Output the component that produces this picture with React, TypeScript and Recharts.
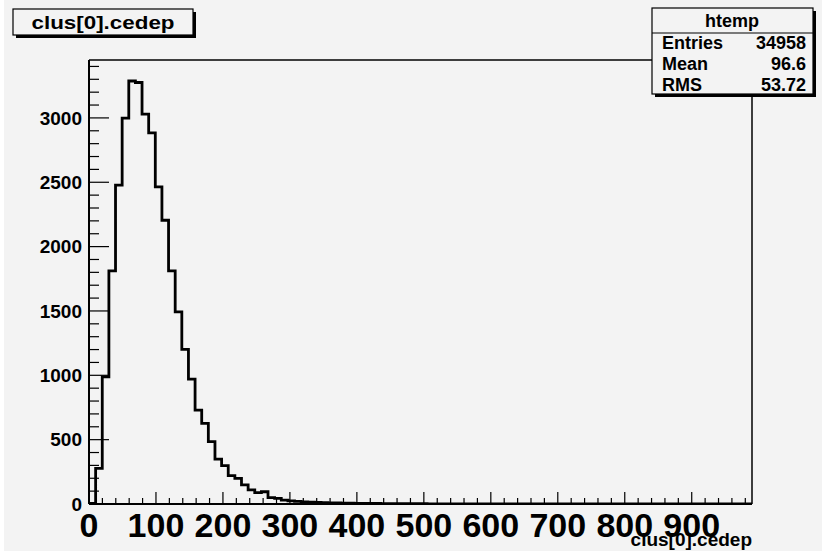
import React from "react";
import { ComposedChart, Line, XAxis, YAxis, ReferenceLine } from "recharts";

// histogram: 100 bins of width 9.9 from 0 to 990
const binWidth = 9.9;
const binCounts = [
  5, 277, 988, 1812, 2477, 2998, 3287, 3275, 3029, 2884,
  2464, 2205, 1812, 1493, 1201, 971, 730, 627, 484, 349,
  298, 220, 199, 148, 109, 88, 95, 49, 44, 30,
  24, 20, 17, 14, 12, 10, 9, 8, 7, 6,
  5, 5, 4, 4, 3, 3, 3, 2, 2, 2,
  2, 1, 1, 1, 1, 1, 1, 1, 0, 1,
  0, 0, 0, 0, 0, 0, 0, 0, 0, 0,
  0, 0, 0, 0, 0, 0, 0, 0, 0, 0,
  0, 0, 0, 0, 0, 0, 0, 0, 0, 0,
  0, 0, 0, 0, 0, 0, 0, 0, 0, 0,
];
const xMax = 990;
const yMax = 3450;
const xTicks = [0, 20, 40, 60, 80, 100, 120, 140, 160, 180, 200, 220, 240, 260, 280, 300, 320, 340, 360, 380, 400, 420, 440, 460, 480, 500, 520, 540, 560, 580, 600, 620, 640, 660, 680, 700, 720, 740, 760, 780, 800, 820, 840, 860, 880, 900, 920, 940, 960, 980];
const yTicks = [0, 100, 200, 300, 400, 500, 600, 700, 800, 900, 1000, 1100, 1200, 1300, 1400, 1500, 1600, 1700, 1800, 1900, 2000, 2100, 2200, 2300, 2400, 2500, 2600, 2700, 2800, 2900, 3000, 3100, 3200, 3300, 3400];
const statsRows = [
  { label: "Entries", value: "34958" },
  { label: "Mean", value: "96.6" },
  { label: "RMS", value: "53.72" },
];
const histName = "htemp";
const title = "clus[0].cedep";
const xTitle = "clus[0].cedep";

const data = binCounts.map((c, i) => ({ x: i * binWidth, y: c }));
data.push({ x: xMax, y: binCounts[binCounts.length - 1] });

const FONT = "'Liberation Sans', Arial, Helvetica, sans-serif";
const BG = "#f3f3f3";

const YTick = (props: any) => {
  const { x, y, payload } = props;
  const v = payload.value;
  const major = v % 500 === 0;
  return (
    <g>
      <line x1={x} x2={x + (major ? 20 : 10)} y1={y} y2={y} stroke="#000" strokeWidth={1.2} />
      {major && (
        <text x={x - 7} y={y} dy="0.36em" textAnchor="end" fontFamily={FONT} fontWeight="bold" fontSize={19} fill="#000">
          {v}
        </text>
      )}
    </g>
  );
};

const XTick = (props: any) => {
  const { x, y, payload } = props;
  const v = payload.value;
  const major = v % 100 === 0;
  return (
    <g>
      <line x1={x} x2={x} y1={y} y2={y - (major ? 12 : 6)} stroke="#000" strokeWidth={1.2} />
      {major && (
        <text x={x} y={y + 33} textAnchor="middle" fontFamily={FONT} fontWeight="bold" fontSize={34} fill="#000">
          {v}
        </text>
      )}
    </g>
  );
};

export default function App() {
  return (
    <div style={{ position: "absolute", left: 0, top: 0, width: 822, height: 555, background: "#fff" }}>
      <div style={{ position: "absolute", left: 4, top: 0, width: 818, height: 551, background: BG }} />
      <div style={{ position: "absolute", left: 0, top: 0 }}>
        <ComposedChart width={822} height={555} data={data} margin={{ top: 60, right: 70, bottom: 0, left: 0 }}>
          <XAxis
            dataKey="x"
            type="number"
            domain={[0, xMax]}
            ticks={xTicks}
            interval={0}
            height={51}
            tickSize={0}
            tickMargin={0}
            tick={<XTick />}
            axisLine={{ stroke: "#000", strokeWidth: 2 }}
            tickLine={false}
            allowDataOverflow
          />
          <YAxis
            type="number"
            domain={[0, yMax]}
            ticks={yTicks}
            interval={0}
            width={89}
            tickSize={0}
            tickMargin={0}
            tick={<YTick />}
            axisLine={{ stroke: "#000", strokeWidth: 2 }}
            tickLine={false}
            allowDataOverflow
          />
          <ReferenceLine y={yMax} stroke="#000" strokeWidth={1.5} ifOverflow="extendDomain" />
          <ReferenceLine x={xMax} stroke="#000" strokeWidth={1.5} ifOverflow="extendDomain" />
          <Line
            dataKey="y"
            type="stepAfter"
            stroke="#000"
            strokeWidth={2.8}
            dot={false}
            isAnimationActive={false}
          />
        </ComposedChart>
      </div>
      <svg width={822} height={555} style={{ position: "absolute", left: 0, top: 0, pointerEvents: "none" }}>
        {/* title box */}
        <rect x={16} y={12} width={180} height={26} fill="#000" />
        <rect x={13} y={9} width={180} height={26} fill={BG} stroke="#000" strokeWidth={1.2} />
        <text x={103} y={29} textAnchor="middle" fontFamily={FONT} fontWeight="bold" fontSize={19} textLength={143} lengthAdjust="spacingAndGlyphs" fill="#000">
          {title}
        </text>
        {/* stats box */}
        <rect x={655} y={11} width={161} height={86} fill="#000" />
        <rect x={652} y={8} width={161} height={86} fill={BG} stroke="#000" strokeWidth={1.2} />
        <line x1={652} x2={813} y1={33} y2={33} stroke="#000" strokeWidth={1.2} />
        <text x={732} y={27} textAnchor="middle" fontFamily={FONT} fontWeight="bold" fontSize={18} fill="#000">
          {histName}
        </text>
        {statsRows.map((r, i) => (
          <g key={r.label}>
            <text x={662} y={49 + i * 21} fontFamily={FONT} fontWeight="bold" fontSize={18} fill="#000">
              {r.label}
            </text>
            <text x={806} y={49 + i * 21} textAnchor="end" fontFamily={FONT} fontWeight="bold" fontSize={18} fill="#000">
              {r.value}
            </text>
          </g>
        ))}
        {/* x axis title */}
        <text x={752} y={546} textAnchor="end" fontFamily={FONT} fontWeight="bold" fontSize={19} fill="#000">
          {xTitle}
        </text>
      </svg>
    </div>
  );
}
